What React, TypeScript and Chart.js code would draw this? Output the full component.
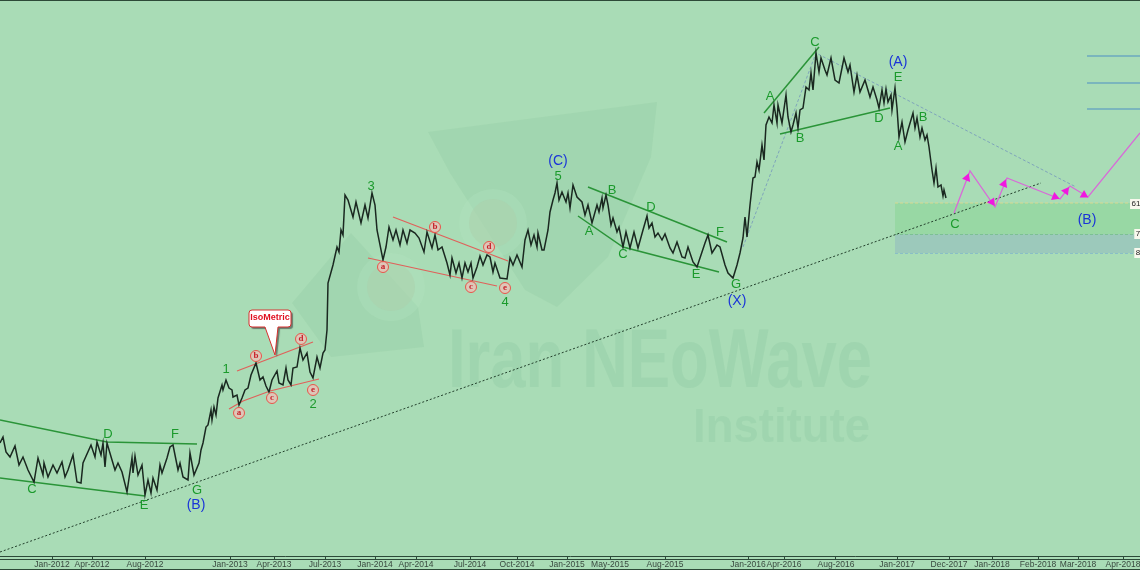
import React, { useEffect, useRef } from "react";
import { Chart, registerables } from "chart.js";

Chart.register(...registerables);

type P = [number, number];

const priceSeries: P[] = [
  [0,443],[3,437],[6,452],[10,457],[15,446],[19,465],[23,457],[28,470],[34,482],[38,458],[43,475],[44,463],[48,477],[53,465],[57,473],[62,462],[65,477],[68,470],[73,455],[77,482],[81,483],[83,463],[91,445],[95,457],[97,442],[101,455],[103,443],[105,467],[107,443],[112,460],[115,470],[118,463],[122,472],[127,492],[132,458],[133,473],[135,456],[138,475],[142,465],[145,495],[148,480],[151,493],[153,478],[157,490],[160,465],[162,473],[167,458],[170,447],[173,445],[175,455],[178,470],[180,463],[183,477],[188,480],[190,453],[194,475],[199,463],[201,450],[203,443],[206,427],[208,425],[211,410],[212,420],[214,407],[216,415],[218,398],[222,385],[223,390],[226,380],[229,388],[232,390],[233,397],[237,395],[239,405],[242,398],[245,390],[248,388],[251,375],[256,363],[260,380],[263,377],[266,386],[269,392],[272,380],[277,371],[279,383],[283,385],[286,368],[288,380],[291,385],[293,368],[297,367],[300,348],[303,360],[307,353],[310,372],[313,378],[317,357],[320,368],[323,353],[325,350],[327,330],[328,283],
  [333,265],[337,247],[339,252],[341,230],[343,235],[345,195],[348,200],[353,217],[356,202],[361,223],[365,205],[368,218],[372,193],[375,205],[377,230],[383,260],[386,247],[389,227],[393,240],[396,230],[400,245],[403,230],[407,243],[410,230],[415,233],[419,238],[424,252],[427,232],[432,248],[435,235],[438,250],[442,247],[447,263],[450,275],[452,258],[456,273],[459,263],[462,278],[465,263],[468,272],[471,263],[473,278],[477,267],[480,256],[483,265],[487,255],[490,257],[493,272],[495,263],[500,278],[507,279],[510,258],[513,265],[517,255],[522,267],[525,240],[528,230],[531,245],[534,235],[537,247],[538,233],[542,250],[544,250],[548,230],[550,212],[553,200],[555,193],[557,183],[559,200],[562,192],[566,202],[568,193],[570,208],[573,185],[577,197],[582,202],[585,215],[588,205],[592,223],[597,205],[599,212],[602,198],[603,208],[606,195],[608,205],[611,225],[613,218],[617,232],[619,227],[623,247],[626,232],[630,248],[634,232],[638,248],[643,230],[647,216],[649,228],[652,223],[655,237],[658,233],[662,240],[665,234],[670,248],[673,253],[677,242],[682,257],[685,258],[688,247],[693,262],[697,267],[702,252],[705,243],[708,235],[712,253],[717,245],[720,247],[725,265],[728,273],[733,278],
  [737,265],[740,253],[743,238],[745,217],[747,237],[750,205],[753,178],[755,177],[757,162],[759,170],[762,145],[764,160],[766,125],[769,117],[772,123],[774,105],[777,123],[778,105],[782,123],[786,95],[788,117],[791,132],[793,125],[796,113],[798,128],[800,110],[803,108],[806,87],[809,90],[811,73],[813,90],[816,53],[819,72],[821,58],[825,70],[827,75],[831,58],[835,80],[839,83],[844,58],[848,72],[850,65],[854,92],[857,75],[860,92],[865,80],[870,97],[873,87],[877,100],[879,108],[882,90],[884,103],[886,89],[888,102],[891,95],[892,110],[895,88],[897,108],[899,137],[902,122],[905,142],[908,130],[913,113],[915,128],[917,118],[920,137],[922,128],[925,140],[927,135],[929,147],[932,170],[934,183],[936,168],[938,187],[941,185],[943,196],[944,190],[946,198],
];

const greenLines: P[][] = [
  [[0,420],[107,442],[197,444]],
  [[0,478],[145,496]],
  [[588,187],[727,242]],
  [[578,216],[623,247],[719,272]],
  [[764,113],[819,47]],
  [[780,134],[890,108]],
];
const redLines: P[][] = [
  [[237,371],[313,342]],
  [[229,409],[243,401],[270,391],[319,379]],
  [[393,217],[508,261]],
  [[368,258],[497,286]],
];
const trendLine: P[] = [[0,552],[1041,183]];
const projectionLine: P[] = [[743,247],[816,53],[1076,187]];
const forecastPath: P[] = [[954,213],[970,171],[995,207],[1007,178],[1060,199],[1070,186],[1088,197],[1140,133]];
const forecastArrows: P[] = [[967,178],[992,202],[1004,184],[1055,197],[1066,191],[1084,195]];
const arrowAngles = [21, 145, 22, 112, 37, 121];
const targetLevels: P[][] = [
  [[1087,56],[1140,56]],
  [[1087,83],[1140,83]],
  [[1087,109],[1140,109]],
];
const zoneStart = 895;
const zoneEnd = 1140;
const level61 = 203;
const level78 = 234;
const level88 = 253;

const tickPositions = [52,92,145,230,274,325,375,416,470,517,567,610,665,748,784,836,897,949,992,1038,1078,1123];
const tickNames = ["Jan-2012","Apr-2012","Aug-2012","Jan-2013","Apr-2013","Jul-2013","Jan-2014","Apr-2014","Jul-2014","Oct-2014","Jan-2015","May-2015","Aug-2015","Jan-2016","Apr-2016","Aug-2016","Jan-2017","Dec-2017","Jan-2018","Feb-2018","Mar-2018","Apr-2018"];

const greenLabels: [string, number, number][] = [
  ["C",32,489],["D",108,434],["F",175,434],["E",144,505],["G",197,490],["1",226,369],["2",313,404],
  ["3",371,186],["4",505,302],["5",558,176],["A",589,231],["B",612,190],["C",623,254],["D",651,207],["E",696,274],["F",720,232],["G",736,284],
  ["A",770,96],["C",815,42],["B",800,138],["E",898,77],["D",879,118],["A",898,146],["B",923,117],["C",955,224],
];
const blueLabels: [string, number, number][] = [
  ["(B)",196,505],["(C)",558,161],["(X)",737,301],["(A)",898,62],["(B)",1087,220],
];
const circledLabels: [string, number, number][] = [
  ["a",239,413],["b",256,356],["c",272,398],["d",301,339],["e",313,390],
  ["a",383,267],["b",435,227],["c",471,287],["d",489,247],["e",505,288],
];
const levelTags: [string, number, number][] = [["61",1136,204],["7",1138,234],["8",1138,253]];
const logoFans: P[][] = [
  [[428,132],[657,102],[651,157],[608,257],[557,307],[525,290],[450,173]],
  [[292,303],[351,233],[418,307],[424,347],[331,357]],
];
const logoRings: [number, number][] = [[493,223],[391,287]];

const pluginArt = {
  id: "art",
  beforeDraw(chart: any) {
    const { ctx, width, height } = chart;
    ctx.save();
    ctx.fillStyle = "#a9dcb6";
    ctx.fillRect(0, 0, width, height);
    ctx.restore();
  },
  beforeDatasetsDraw(chart: any) {
    const { ctx } = chart;
    const X = (v: number) => chart.scales.x.getPixelForValue(v);
    const Y = (v: number) => chart.scales.y.getPixelForValue(v);
    ctx.save();
    ctx.fillStyle = "rgba(150,205,165,0.38)";
    for (const fan of logoFans) {
      ctx.beginPath();
      fan.forEach(([a, b], i) => (i ? ctx.lineTo(X(a), Y(b)) : ctx.moveTo(X(a), Y(b))));
      ctx.closePath();
      ctx.fill();
    }
    for (const [a, b] of logoRings) {
      ctx.fillStyle = "rgba(178,230,192,0.3)";
      ctx.beginPath();
      ctx.arc(X(a), Y(b), 34, 0, Math.PI * 2);
      ctx.fill();
      ctx.fillStyle = "rgba(172,207,172,0.5)";
      ctx.beginPath();
      ctx.arc(X(a), Y(b), 24, 0, Math.PI * 2);
      ctx.fill();
    }
    ctx.fillStyle = "rgba(152,208,170,0.55)";
    ctx.textAlign = "left";
    ctx.textBaseline = "alphabetic";
    const fitted = (text: string, size: number, l: number, r: number, base: number) => {
      ctx.font = `bold ${size}px "Liberation Sans"`;
      const w = ctx.measureText(text).width;
      ctx.save();
      ctx.translate(X(l), Y(base));
      ctx.scale((X(r) - X(l)) / w, 1);
      ctx.fillText(text, 0, 0);
      ctx.restore();
    };
    fitted("Iran NEoWave", 84, 448, 872, 387);
    fitted("Institute", 49, 693, 870, 442);
    ctx.restore();
  },
  afterDatasetsDraw(chart: any) {
    const { ctx, width, height } = chart;
    const X = (v: number) => chart.scales.x.getPixelForValue(v);
    const Y = (v: number) => chart.scales.y.getPixelForValue(v);
    ctx.save();
    ctx.textAlign = "center";
    ctx.textBaseline = "middle";
    ctx.font = '13px "Liberation Sans"';
    ctx.fillStyle = "#1b9a2c";
    for (const [t, a, b] of greenLabels) ctx.fillText(t, X(a), Y(b));
    ctx.font = '14px "Liberation Sans"';
    ctx.fillStyle = "#1a34d8";
    for (const [t, a, b] of blueLabels) ctx.fillText(t, X(a), Y(b));
    for (const [t, a, b] of circledLabels) {
      ctx.beginPath();
      ctx.arc(X(a), Y(b), 5.5, 0, Math.PI * 2);
      ctx.fillStyle = "rgba(245,190,185,0.7)";
      ctx.fill();
      ctx.strokeStyle = "#e8554a";
      ctx.lineWidth = 1;
      ctx.stroke();
      ctx.fillStyle = "#c8202a";
      ctx.font = 'bold 9px "Liberation Serif"';
      ctx.fillText(t, X(a), Y(b) - 0.5);
    }
    // callout
    ctx.save();
    ctx.shadowColor = "rgba(60,60,60,0.6)";
    ctx.shadowOffsetX = 2;
    ctx.shadowOffsetY = 2;
    ctx.shadowBlur = 1;
    ctx.beginPath();
    ctx.roundRect(X(249), Y(310), X(291) - X(249), Y(327) - Y(310), 3);
    ctx.moveTo(X(265), Y(327));
    ctx.lineTo(X(275), Y(355));
    ctx.lineTo(X(278), Y(327));
    ctx.fillStyle = "#ffffff";
    ctx.fill();
    ctx.restore();
    ctx.strokeStyle = "#d83030";
    ctx.lineWidth = 1;
    ctx.beginPath();
    ctx.moveTo(X(265), Y(327));
    ctx.lineTo(X(252), Y(327));
    ctx.arcTo(X(249), Y(327), X(249), Y(324), 3);
    ctx.lineTo(X(249), Y(313));
    ctx.arcTo(X(249), Y(310), X(252), Y(310), 3);
    ctx.lineTo(X(288), Y(310));
    ctx.arcTo(X(291), Y(310), X(291), Y(313), 3);
    ctx.lineTo(X(291), Y(324));
    ctx.arcTo(X(291), Y(327), X(288), Y(327), 3);
    ctx.lineTo(X(278), Y(327));
    ctx.lineTo(X(275), Y(355));
    ctx.closePath();
    ctx.stroke();
    ctx.fillStyle = "#e01020";
    ctx.font = 'bold 9px "Liberation Sans"';
    ctx.fillText("IsoMetric", X(270), Y(318));
    // level tags
    ctx.font = '8px "Liberation Sans"';
    for (const [t, a, b] of levelTags) {
      const w = ctx.measureText(t).width + 3;
      ctx.fillStyle = "#f8f8ee";
      ctx.fillRect(X(a) - w / 2, Y(b) - 5, w + 6, 10);
      ctx.fillStyle = "#222";
      ctx.fillText(t, X(a), Y(b));
    }
    // frame
    ctx.strokeStyle = "#2d4a38";
    ctx.lineWidth = 1;
    ctx.beginPath();
    ctx.moveTo(0, 0.5);
    ctx.lineTo(width, 0.5);
    ctx.moveTo(0, height - 0.5);
    ctx.lineTo(width, height - 0.5);
    ctx.moveTo(0, 559.5);
    ctx.lineTo(width, 559.5);
    ctx.stroke();
    ctx.restore();
  },
};

const toXY = (pts: P[]) => pts.map(([x, y]) => ({ x, y }));
const lineSet = (pts: P[], color: string, width: number, dash: number[] = []) => ({
  data: toXY(pts),
  borderColor: color,
  borderWidth: width,
  borderDash: dash,
  pointRadius: 0,
  tension: 0,
  fill: false,
});

export default function App() {
  const ref = useRef<HTMLCanvasElement>(null);
  useEffect(() => {
    document.body.style.margin = "0";
    const chart = new Chart(ref.current!, {
      type: "line",
      data: {
        datasets: [
          {
            ...lineSet([[zoneStart, level61],[zoneEnd, level61]], "#d8d890", 1, [3, 2]),
            fill: { value: level78 },
            backgroundColor: "#98d8a4",
            order: 9,
          },
          {
            ...lineSet([[zoneStart, level78],[zoneEnd, level78]], "#5cb86c", 1, [3, 2]),
            fill: { value: level88 },
            backgroundColor: "#9cc9bb",
            order: 9,
          },
          { ...lineSet([[zoneStart, level88],[zoneEnd, level88]], "#6aa0d8", 1, [3, 2]), order: 9 },
          ...targetLevels.map((l) => ({ ...lineSet(l, "#4d8fc4", 1), order: 8 })),
          { ...lineSet(projectionLine, "#7fa5bb", 1, [3, 2]), order: 7 },
          { ...lineSet(trendLine, "#23402c", 1, [2, 2]), order: 6 },
          ...greenLines.map((l) => ({ ...lineSet(l, "#2a9438", 1.5), order: 5 })),
          ...redLines.map((l) => ({ ...lineSet(l, "#e0605a", 1.2), order: 5 })),
          { ...lineSet(priceSeries, "#1a2820", 1.5), order: 4 },
          { ...lineSet(forecastPath, "#d86ad8", 1.3), order: 3 },
          {
            data: toXY(forecastArrows),
            showLine: false,
            pointStyle: "triangle",
            pointRadius: 5,
            pointRotation: arrowAngles,
            pointBackgroundColor: "#f018e0",
            pointBorderColor: "#f018e0",
            pointBorderWidth: 0,
            order: 2,
          },
        ] as any,
      },
      options: {
        responsive: false,
        animation: false,
        layout: { padding: 0, autoPadding: false },
        plugins: { legend: { display: false }, tooltip: { enabled: false }, title: { display: false } },
        scales: {
          x: {
            type: "linear",
            min: 0,
            max: 1140,
            afterBuildTicks: (s: any) => {
              s.ticks = tickPositions.map((value) => ({ value }));
            },
            afterFit: (s: any) => {
              s.height = 14;
              s.paddingLeft = 0;
              s.paddingRight = 0;
            },
            grid: { drawOnChartArea: false, drawTicks: true, tickLength: 3, color: "#2c4a38" },
            border: { color: "#2c4a38", width: 1 },
            ticks: {
              autoSkip: false,
              maxRotation: 0,
              padding: 1,
              color: "#3a4a40",
              font: { family: '"Liberation Sans"', size: 8.5 },
              callback: (_v: any, i: number) => tickNames[i],
            },
          },
          y: { type: "linear", reverse: true, min: 0, max: 556, display: false },
        },
      } as any,
      plugins: [pluginArt],
    });
    return () => chart.destroy();
  }, []);
  return <canvas ref={ref} width={1140} height={570} style={{ display: "block" }} />;
}
